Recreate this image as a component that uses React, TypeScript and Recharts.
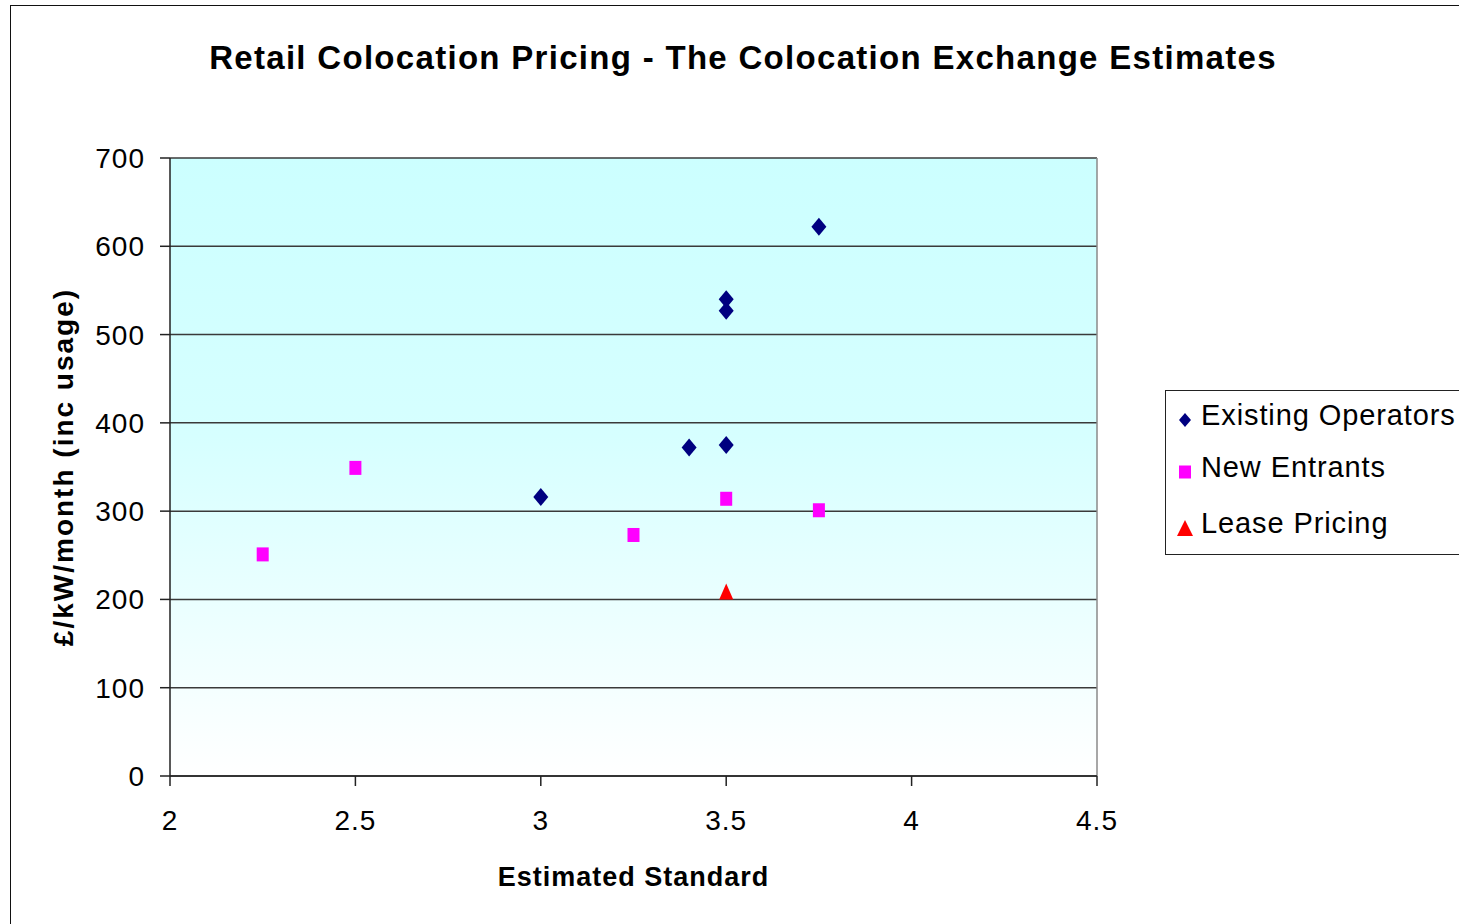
import { ScatterChart, Scatter, XAxis, YAxis, CartesianGrid, Legend, ReferenceLine, Label } from 'recharts';

// Values
const existingX = [3, 3.4, 3.5, 3.5, 3.5, 3.75];
const existingY = [316, 372, 375, 527, 540, 622];

const entrantsX = [2.25, 2.5, 3.25, 3.5, 3.75];
const entrantsY = [251, 349, 273, 314, 301];

const leaseX = [3.5];
const leaseY = [209];

const xTicks = [2, 2.5, 3, 3.5, 4, 4.5];
const yTicks = [0, 100, 200, 300, 400, 500, 600, 700];

const SERIES_NAMES = ['Existing Operators', 'New Entrants', 'Lease Pricing'];
const COLORS = ['#000080', '#ff00ff', '#ff0000'];

const FONT = '"Liberation Sans", Arial, Helvetica, sans-serif';

const toPoints = (xs: number[], ys: number[]) => xs.map((x, i) => ({ x, y: ys[i] }));

const existingData = toPoints(existingX, existingY);
const entrantsData = toPoints(entrantsX, entrantsY);
const leaseData = toPoints(leaseX, leaseY);

// marker shapes
const Diamond = ({ cx, cy, w = 15, h = 18, fill = COLORS[0] }: any) => (
    <path d={`M${cx},${cy - h / 2} L${cx + w / 2},${cy} L${cx},${cy + h / 2} L${cx - w / 2},${cy} Z`} fill={fill} />
);

const Square = ({ cx, cy, w = 12, h = 14, fill = COLORS[1] }: any) => (
    <rect x={cx - w / 2} y={cy - h / 2} width={w} height={h} fill={fill} />
);

const Triangle = ({ cx, cy, w = 14, h = 16, fill = COLORS[2] }: any) => (
    <path d={`M${cx},${cy - h / 2} L${cx + w / 2},${cy + h / 2} L${cx - w / 2},${cy + h / 2} Z`} fill={fill} />
);

const LEGEND_ICONS = [Diamond, Square, Triangle];
const LEGEND_ICON_SIZE = [
    { w: 12, h: 14 },
    { w: 12, h: 13 },
    { w: 16, h: 16 },
];
const LEGEND_ROW_CENTERS = [24, 76, 132];

function ChartLegend() {
    return (
        <div
            style={{
                position: 'relative',
                width: 330,
                height: 165,
                border: '1px solid #222',
                background: '#fff',
                fontFamily: FONT,
                fontSize: 29,
                letterSpacing: 0.9,
                color: '#000',
                boxSizing: 'border-box',
            }}
        >
            {SERIES_NAMES.map((name, i) => {
                const Icon = LEGEND_ICONS[i];
                return (
                    <div
                        key={name}
                        style={{
                            position: 'absolute',
                            left: 0,
                            top: LEGEND_ROW_CENTERS[i] - 20,
                            height: 40,
                            display: 'flex',
                            alignItems: 'center',
                        }}
                    >
                        <svg width={35} height={40} style={{ flexShrink: 0 }}>
                            <Icon cx={19} cy={25} {...LEGEND_ICON_SIZE[i]} fill={COLORS[i]} />
                        </svg>
                        <span style={{ whiteSpace: 'nowrap' }}>{name}</span>
                    </div>
                );
            })}
        </div>
    );
}

const XTitle = ({ viewBox }: any) => (
    <text
        x={viewBox.x + viewBox.width / 2}
        y={viewBox.y + 101}
        textAnchor="middle"
        dominantBaseline="central"
        fontFamily={FONT}
        fontWeight="bold"
        fontSize={27}
        letterSpacing={1}
        fill="#000"
    >
        Estimated Standard
    </text>
);

const YTitle = ({ viewBox }: any) => {
    const cx = 63;
    const cy = viewBox.y + viewBox.height / 2;
    return (
        <text
            x={cx}
            y={cy}
            transform={`rotate(-90, ${cx}, ${cy})`}
            textAnchor="middle"
            dominantBaseline="central"
            fontFamily={FONT}
            fontWeight="bold"
            fontSize={28}
            letterSpacing={2}
            fill="#000"
        >
            £/kW/month (inc usage)
        </text>
    );
};

export default function App() {
    const tickStyle = { fontFamily: FONT, fontSize: 28, fill: '#000', letterSpacing: 1 };

    return (
        <div style={{ position: 'absolute', left: 0, top: 0, width: 1459, height: 924, overflow: 'hidden', background: '#fff' }}>
            <svg width={0} height={0} style={{ position: 'absolute' }}>
                <defs>
                    <linearGradient id="plotBg" x1="0" y1="0" x2="0" y2="1">
                        <stop offset="0%" stopColor="#ccffff" />
                        <stop offset="45%" stopColor="#d6ffff" />
                        <stop offset="100%" stopColor="#ffffff" />
                    </linearGradient>
                </defs>
            </svg>

            {/* outer chart frame */}
            <div style={{ position: 'absolute', left: 10, top: 5, width: 1600, height: 1000, border: '1px solid #111' }} />

            <div
                style={{
                    position: 'absolute',
                    left: 0,
                    top: 39,
                    width: 1486,
                    textAlign: 'center',
                    fontFamily: FONT,
                    fontWeight: 'bold',
                    fontSize: 33,
                    letterSpacing: 1.3,
                    color: '#000',
                }}
            >
                Retail Colocation Pricing - The Colocation Exchange Estimates
            </div>

            <div style={{ position: 'absolute', left: 0, top: 0 }}>
                <ScatterChart width={1459} height={924} margin={{ top: 158, right: 362, bottom: 8, left: 10 }}>
                    <CartesianGrid horizontal vertical={false} stroke="#3a3a3a" strokeWidth={1.5} fill="url(#plotBg)" fillOpacity={1} />
                    <XAxis
                        type="number"
                        dataKey="x"
                        domain={[2, 4.5]}
                        ticks={xTicks}
                        interval={0}
                        height={140}
                        tickSize={10}
                        tickMargin={24}
                        stroke="#222"
                        strokeWidth={1.5}
                        tick={tickStyle}
                        allowDataOverflow
                    >
                        <Label content={<XTitle />} />
                    </XAxis>
                    <YAxis
                        type="number"
                        dataKey="y"
                        domain={[0, 700]}
                        ticks={yTicks}
                        interval={0}
                        width={160}
                        tickSize={10}
                        tickMargin={15}
                        stroke="#222"
                        strokeWidth={1.5}
                        tick={tickStyle}
                        allowDataOverflow
                    >
                        <Label content={<YTitle />} />
                    </YAxis>
                    <ReferenceLine x={4.5} stroke="#8a8a8a" strokeWidth={1.5} />
                    <Legend
                        layout="vertical"
                        align="center"
                        verticalAlign="middle"
                        content={<ChartLegend />}
                        wrapperStyle={{ left: 1165, top: 390, width: 330 }}
                    />
                    <Scatter name={SERIES_NAMES[0]} data={existingData} fill={COLORS[0]} shape={<Diamond />} isAnimationActive={false} />
                    <Scatter name={SERIES_NAMES[1]} data={entrantsData} fill={COLORS[1]} shape={<Square />} isAnimationActive={false} />
                    <Scatter name={SERIES_NAMES[2]} data={leaseData} fill={COLORS[2]} shape={<Triangle />} isAnimationActive={false} />
                </ScatterChart>
            </div>
        </div>
    );
}
